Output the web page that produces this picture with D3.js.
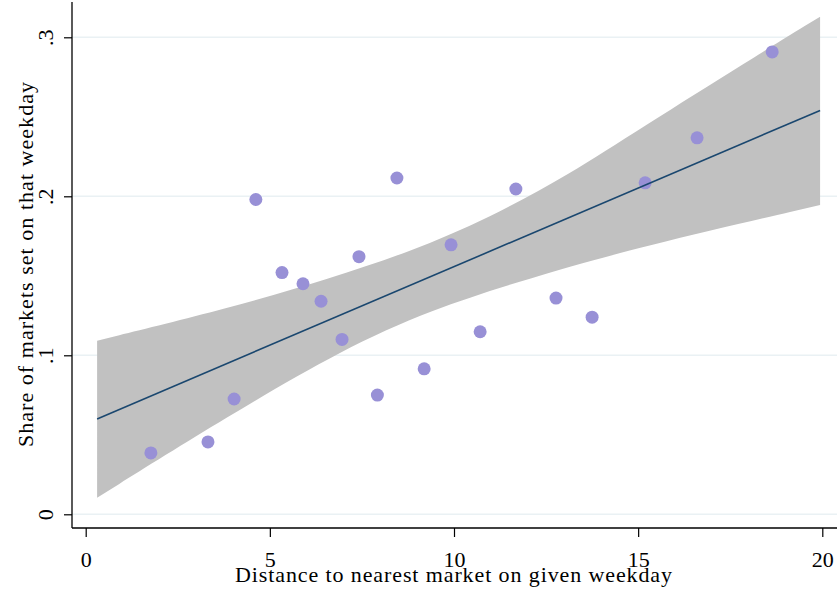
<!DOCTYPE html>
<html lang="en">
<head>
<meta charset="UTF-8">
<title>Market share vs distance</title>
<script src="https://cdn.jsdelivr.net/npm/d3@7"></script>
<style>
  body { margin: 0; background: #fff; }
  text { font-family: "Liberation Serif", "Times New Roman", serif; fill: #000; }
</style>
</head>
<body>
<script>
// scatter points: distance to nearest market (x) and share of markets (y)
var distance = [1.77, 3.32, 4.03, 4.62, 5.33, 5.90, 6.39, 6.96, 7.42, 7.92,
                8.45, 9.19, 9.92, 10.71, 11.68, 12.77, 13.75, 15.19, 16.60, 18.64];
var share = [0.0386, 0.0455, 0.0725, 0.198, 0.152, 0.145, 0.134, 0.110, 0.162, 0.075,
             0.2115, 0.0915, 0.1695, 0.1148, 0.2046, 0.136, 0.124, 0.2085, 0.2368, 0.2908];

// fitted line
var fitX = [0.31, 19.94];
var fitY = [0.060, 0.254];

// confidence band edges
var bandUpX = [0.31, 3.92, 6.63, 8.80, 10.97, 13.15, 15.05, 18.04, 19.94];
var bandUpY = [0.1092, 0.1297, 0.1484, 0.1650, 0.1865, 0.2140, 0.2425, 0.2860, 0.3130];
var bandLoX = [0.31, 3.92, 6.96, 9.35, 12.06, 15.05, 19.94];
var bandLoY = [0.0104, 0.0625, 0.1035, 0.1285, 0.1486, 0.1683, 0.1945];

var xTicks = [0, 5, 10, 15, 20];
var yTicks = [0, 0.1, 0.2, 0.3];
var yTickLabels = ["0", ".1", ".2", ".3"];

var W = 837, H = 592;
var axisX = 72, axisY = 528;

var svg = d3.select("body").append("svg")
  .attr("width", W)
  .attr("height", H);

var x = d3.scaleLinear().domain([0, 20]).range([85.7, 822.3]);
var y = d3.scaleLinear().domain([0, 0.3]).range([514.3, 37.3]);

// gridlines
svg.append("g").selectAll("line")
  .data(yTicks)
  .enter().append("line")
  .attr("x1", axisX).attr("x2", W)
  .attr("y1", function(d){ return y(d) })
  .attr("y2", function(d){ return y(d) })
  .attr("stroke", "#eaf1f4")
  .attr("stroke-width", 1.5);

// confidence band
var upper = bandUpX.map(function(v, i){ return [v, bandUpY[i]] });
var lower = bandLoX.map(function(v, i){ return [v, bandLoY[i]] }).reverse();
var band = d3.line()
  .x(function(d){ return x(d[0]) })
  .y(function(d){ return y(d[1]) })
  .curve(d3.curveBasis);
svg.append("path")
  .attr("d", band(upper) + "L" + band(lower).slice(1) + "Z")
  .attr("fill", "#c1c1c1");

// scatter
svg.append("g").selectAll("circle")
  .data(distance)
  .enter().append("circle")
  .attr("cx", function(d){ return x(d) })
  .attr("cy", function(d, i){ return y(share[i]) })
  .attr("r", 6.5)
  .attr("fill", "#9890d6");

// fit line
svg.append("path")
  .attr("d", d3.line()
    .x(function(d){ return x(d) })
    .y(function(d, i){ return y(fitY[i]) })(fitX))
  .attr("fill", "none")
  .attr("stroke", "#1a476f")
  .attr("stroke-width", 1.6);

// x axis
var xAxis = d3.axisBottom(x).tickValues(xTicks).tickSize(9).tickPadding(0)
  .tickFormat(d3.format("d"));
var gx = svg.append("g").attr("transform", "translate(0," + axisY + ")").call(xAxis);
gx.select(".domain").remove();
gx.selectAll(".tick line").attr("stroke", "#000").attr("stroke-width", 1.2);
gx.selectAll(".tick text")
  .attr("y", 39).attr("dy", null)
  .style("font-size", "22px");

// y axis
var yAxis = d3.axisLeft(y).tickValues(yTicks).tickSize(8).tickPadding(0)
  .tickFormat(function(d, i){ return yTickLabels[i] });
var gy = svg.append("g").attr("transform", "translate(" + axisX + ",0)").call(yAxis);
gy.select(".domain").remove();
gy.selectAll(".tick line").attr("stroke", "#000").attr("stroke-width", 1.2);
gy.selectAll(".tick text")
  .attr("x", null).attr("dy", null)
  .attr("text-anchor", "middle")
  .attr("transform", "translate(-19,0) rotate(-90)")
  .style("font-size", "22px");

// axis lines
svg.append("line")
  .attr("x1", axisX).attr("x2", axisX).attr("y1", 2).attr("y2", axisY)
  .attr("stroke", "#000").attr("stroke-width", 1.3);
svg.append("line")
  .attr("x1", axisX).attr("x2", W).attr("y1", axisY).attr("y2", axisY)
  .attr("stroke", "#000").attr("stroke-width", 1.3);

// titles
svg.append("text")
  .attr("x", 453.5).attr("y", 582)
  .attr("text-anchor", "middle")
  .attr("textLength", 437)
  .style("font-size", "22px")
  .text("Distance to nearest market on given weekday");

svg.append("text")
  .attr("transform", "translate(33,264.5) rotate(-90)")
  .attr("text-anchor", "middle")
  .attr("textLength", 365)
  .style("font-size", "22px")
  .text("Share of markets set on that weekday");
</script>
</body>
</html>
